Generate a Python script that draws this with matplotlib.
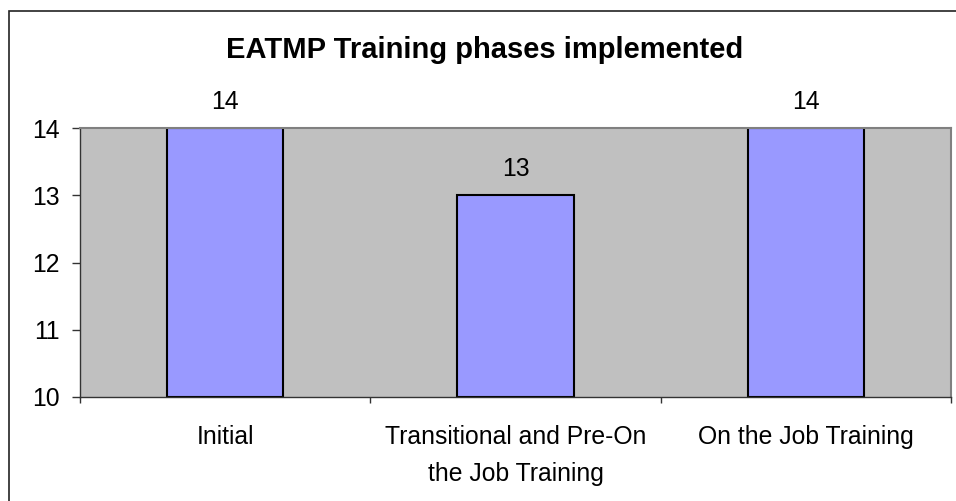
"""
EATMP training phases bar chart (Excel-style look)
"""

import matplotlib.pyplot as plt
import matplotlib.patches as mpatches

# data
categories = ["Initial", "Transitional and Pre-On\nthe Job Training", "On the Job Training"]
values = [14, 13, 14]
y_ticks = [10, 11, 12, 13, 14]

plt.rcParams["font.family"] = ["Liberation Sans", "DejaVu Sans"]

W, H = 956, 501
fig = plt.figure(figsize=(W / 100, H / 100), dpi=100)
fig.patch.set_facecolor("white")

# outer chart border (only top/left visible in the crop)
fig.add_artist(mpatches.Rectangle((9 / W, -0.1), 1.2, (H - 11) / H + 0.1,
                                  transform=fig.transFigure, fill=False,
                                  edgecolor="#222222", lw=1.2))

left, right, top, bottom = 80, 951, 128, 397
ax = fig.add_axes([left / W, (H - bottom) / H, (right - left) / W, (bottom - top) / H])
ax.set_facecolor("#C0C0C0")

x = list(range(len(categories)))
bars = ax.bar(x, [v - 10 for v in values], bottom=10, width=0.4,
              color="#9999FF", edgecolor="black", linewidth=1.5, zorder=2)

FS = 17.8
for xi, v in zip(x, values):
    ax.annotate(str(v), (xi, v), xytext=(0, 19), textcoords="offset points",
                ha="center", va="center", fontsize=FS)

ax.set_xlim(-0.5, len(categories) - 0.5)
ax.set_ylim(10, 14)
ax.set_yticks(y_ticks)
ax.set_yticklabels([str(t) for t in y_ticks], fontsize=FS)

# category ticks sit on the boundaries, labels at the centres
ax.set_xticks([i - 0.5 for i in range(len(categories) + 1)])
ax.set_xticklabels([])
ax.set_xticks(x, minor=True)
ax.set_xticklabels(categories, minor=True, fontsize=FS, linespacing=1.7, va="top")
ax.tick_params(axis="x", which="minor", length=0, pad=20)
ax.tick_params(axis="x", which="major", length=4.3, width=1, color="#333333")
ax.tick_params(axis="y", length=5.8, width=1, color="#333333", pad=8.6)

for s in ["top", "right"]:
    ax.spines[s].set_color("#808080")
    ax.spines[s].set_linewidth(1.5)
for s in ["left", "bottom"]:
    ax.spines[s].set_color("#333333")
    ax.spines[s].set_linewidth(1.0)

fig.text(485 / W, (H - 50) / H, "EATMP Training phases implemented",
         ha="center", va="center", fontsize=21, fontweight="bold")

fig.savefig("out.png", dpi=100)
plt.close(fig)
